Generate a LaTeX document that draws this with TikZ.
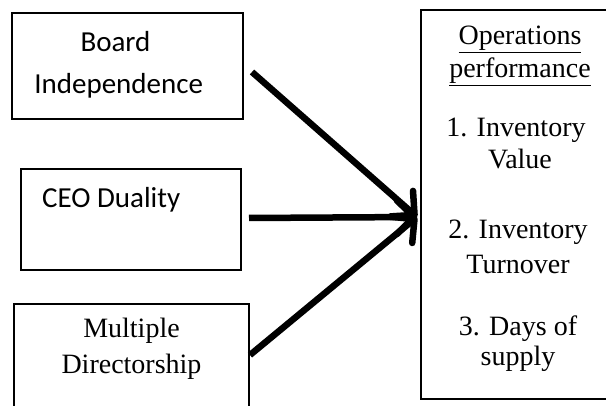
\documentclass[tikz,border=0pt]{standalone}
\usepackage{fontspec}
\setmainfont{Liberation Serif}
\newfontfamily\calfont{Carlito}
\usetikzlibrary{arrows.meta}
\tikzset{
  boxline/.style={draw=black, line width=1.6pt},
  sanstxt/.style={inner sep=0pt, anchor=base, font=\calfont\fontsize{29}{34}\selectfont},
  seriftxt/.style={inner sep=0pt, anchor=base, font=\fontsize{28}{33}\selectfont},
  bigarrow/.style={line width=6.5pt, -{Straight Barb[length=17pt,width=34pt,line cap=round,line join=round]}}
}
\begin{document}
\begin{tikzpicture}[x=1pt,y=-1pt]
\useasboundingbox (0,0) rectangle (606,406);
\clip (0,0) rectangle (606,406);
% boxes
\draw[boxline] (12,13) rectangle (243,119);
\draw[boxline] (21,169) rectangle (241,270);
\draw[boxline] (14,304) rectangle (249,420);
\draw[boxline] (421,10) rectangle (625,399);
% texts
\node[sanstxt] (t1a) at (115.5,52) {Board};
\node[sanstxt] (t1b) at (118.7,94) {Independence};
\node[sanstxt, anchor=base west] (t2) at (42,208) {CEO Duality};
\node[seriftxt] (t3a) at (131.5,338) {Multiple};
\node[seriftxt] (t3b) at (131.5,374) {Directorship};
\node[seriftxt] (r1) at (520,45) {\underline{Operations}};
\node[seriftxt] (r2) at (520,78) {\underline{performance}};
\node[seriftxt] (r3) at (516,137) {1. Inventory};
\node[seriftxt] (r4) at (520,169) {Value};
\node[seriftxt] (r5) at (518,239) {2. Inventory};
\node[seriftxt] (r6) at (518,274) {Turnover};
\node[seriftxt] (r7) at (518,336) {3. Days of};
\node[seriftxt] (r8) at (518,366) {supply};
% arrows
\coordinate (s1) at (252,72);
\coordinate (s2) at (249,218);
\coordinate (s3) at (250,355);
\coordinate (tip) at (417,217);
\draw[bigarrow] (s1) -- (tip);
\draw[bigarrow] (s2) -- (tip);
\draw[bigarrow] (s3) -- (tip);
\end{tikzpicture}
\end{document}
